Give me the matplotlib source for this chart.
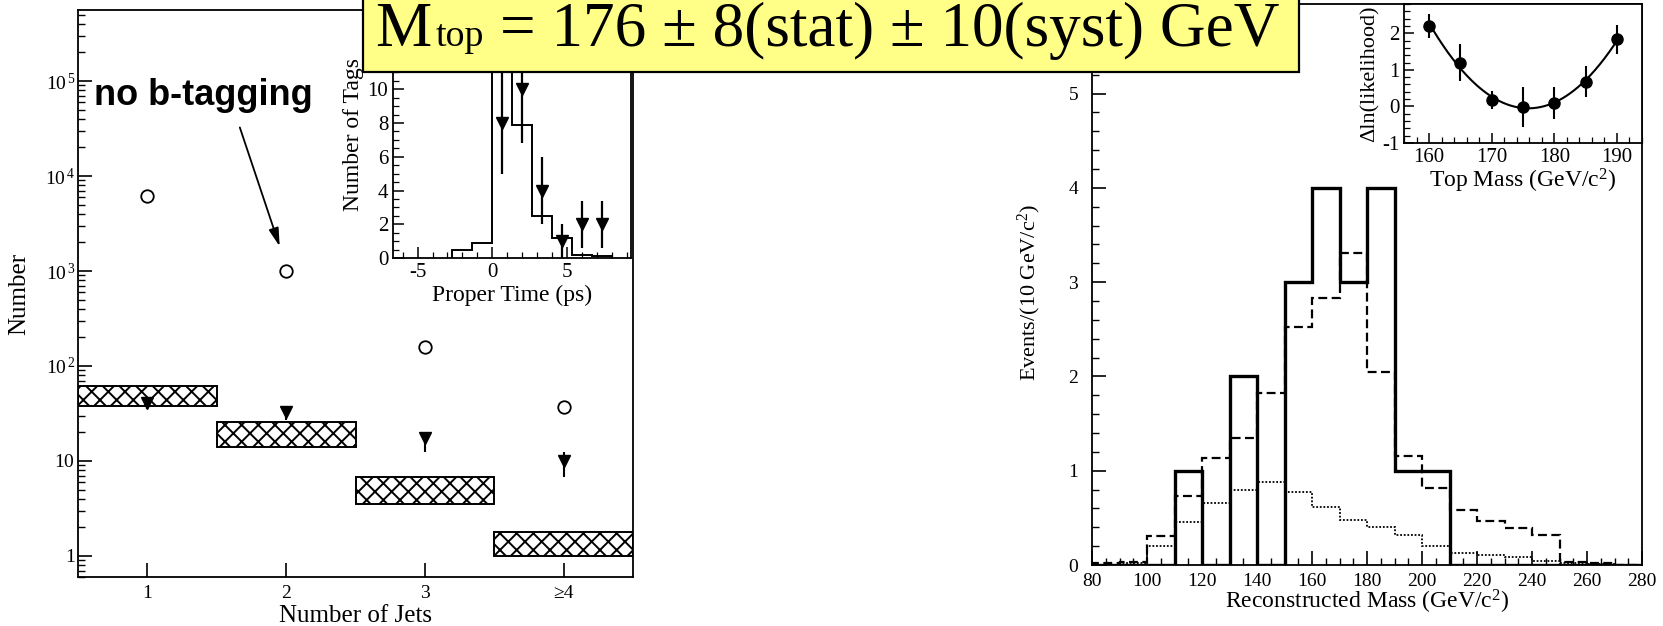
import numpy as np
import matplotlib
matplotlib.use("Agg")
import matplotlib.pyplot as plt
from matplotlib.patches import Rectangle
from matplotlib.ticker import MultipleLocator, LogLocator, FixedLocator, NullFormatter, FuncFormatter

plt.rcParams["font.family"] = ["Liberation Serif", "DejaVu Serif"]
plt.rcParams["mathtext.fontset"] = "custom"
plt.rcParams["mathtext.rm"] = "Liberation Serif"
plt.rcParams["mathtext.it"] = "Liberation Serif:italic"
plt.rcParams["mathtext.bf"] = "Liberation Serif:bold"
plt.rcParams["axes.unicode_minus"] = False
plt.rcParams["hatch.linewidth"] = 1.4
plt.rcParams["xtick.direction"] = "in"
plt.rcParams["ytick.direction"] = "in"
plt.rcParams["xtick.labelsize"] = 14
plt.rcParams["ytick.labelsize"] = 14
plt.rcParams["axes.linewidth"] = 1.3

# --- jet multiplicity (log panel) ---
jet_n = [1, 2, 3, 4]
jet_labels = ["1", "2", "3", "≥4"]
no_btag = [6200, 1000, 158, 37]
btag = [41, 33, 17.5, 10]
btag_err_lo = [6, 6, 5, 3.2]
btag_err_hi = [4, 4, 2.5, 2.3]
bkg_lo = [38, 14, 3.5, 1.0]
bkg_hi = [62, 26, 6.8, 1.8]

# --- proper time inset ---
pt_edges = [-2.67, -1.33, 0.0, 1.33, 2.67, 4.0, 5.33, 6.67, 8.0]
pt_expect = [0.5, 0.9, 17, 7.9, 2.5, 1.2, 0.2, 0.1]
pt_x = [0.67, 2.0, 3.33, 4.67, 6.0, 7.33]
pt_tags = [8, 10, 4, 1, 2, 2]
pt_err = [3, 3.2, 2, 1, 1.4, 1.4]

# --- reconstructed mass ---
mass_edges = np.arange(80, 290, 10)
data_counts = [0, 0, 0, 1, 0, 2, 0, 3, 4, 3, 4, 1, 1, 0, 0, 0, 0, 0, 0, 0]
total_exp = [0.02, 0.03, 0.31, 0.73, 1.13, 1.35, 1.82, 2.52, 2.83, 3.31,
             2.05, 1.16, 0.82, 0.58, 0.47, 0.39, 0.32, 0.03, 0.02, 0.0]
bkg_exp = [0.0, 0.02, 0.2, 0.46, 0.66, 0.8, 0.88, 0.77, 0.61, 0.48,
           0.4, 0.32, 0.2, 0.13, 0.11, 0.09, 0.04, 0.02, 0.01, 0.0]

# --- likelihood scan ---
top_mass = [160, 165, 170, 175, 180, 185, 190]
dlnl = [2.2, 1.2, 0.18, -0.02, 0.09, 0.68, 1.83]
dlnl_err = [0.32, 0.5, 0.25, 0.55, 0.43, 0.43, 0.4]

W, H = 1663, 626
fig = plt.figure(figsize=(W / 100, H / 100), dpi=100)


def px_axes(x0, y0, x1, y1, **kw):
    """add axes from pixel box (top-left origin)"""
    return fig.add_axes([x0 / W, 1 - y1 / H, (x1 - x0) / W, (y1 - y0) / H], **kw)


def log_label(v, pos):
    # plain numbers get trailing space so the "10"s line up with the powers
    k = int(round(np.log10(v)))
    if k == 0:
        return r"$\mathdefault{1}\;\;$"
    if k == 1:
        return r"$\mathdefault{10}\;\;$"
    return r"$\mathdefault{10}^{\,%d}$" % k


# ---------------- left: jets ----------------
ax1 = px_axes(78, 10, 633, 577)
ax1.set_yscale("log")
ax1.set_xlim(0.5, 4.5)
ax1.set_ylim(0.6, 5.6e5)
for n, lo, hi in zip(jet_n, bkg_lo, bkg_hi):
    ax1.add_patch(Rectangle((n - 0.5, lo), 1.0, hi - lo, facecolor="white",
                            edgecolor="black", hatch="xx", lw=1.4, zorder=2))
ax1.plot(jet_n, no_btag, "o", mfc="none", mec="black", ms=9, mew=1.3, zorder=3)
ax1.errorbar(jet_n, btag, yerr=[btag_err_lo, btag_err_hi], fmt="v", color="black",
             ms=8, elinewidth=1.5, capsize=0, zorder=3)
ax1.xaxis.set_major_locator(FixedLocator(jet_n))
ax1.xaxis.set_major_formatter(FuncFormatter(lambda v, p: jet_labels[int(round(v)) - 1]))
ax1.yaxis.set_major_locator(LogLocator(base=10, numticks=10))
ax1.yaxis.set_minor_locator(LogLocator(base=10, subs=np.arange(2, 10), numticks=20))
ax1.yaxis.set_minor_formatter(NullFormatter())
ax1.yaxis.set_major_formatter(FuncFormatter(log_label))
ax1.tick_params(which="major", length=10, width=1.2)
ax1.tick_params(axis="y", which="major", pad=2)
ax1.tick_params(axis="x", which="major", pad=6)
ax1.tick_params(axis="y", which="minor", length=5, width=1)
ax1.tick_params(axis="x", which="minor", bottom=False)
ax1.set_xlabel("Number of Jets", fontsize=18, va="top")
ax1.xaxis.set_label_coords(0.5, -0.05)
ax1.set_ylabel("Number", fontsize=18)
ax1.yaxis.set_label_coords(-0.086, 0.5)

ax1.annotate("", xy=(1.96, 1700), xytext=(1.66, 34600),
             arrowprops=dict(arrowstyle="-|>,head_length=1.1,head_width=0.3",
                             color="black", lw=1.3), zorder=4)
ax1.text(1.40, 71000, "no b-tagging", family=["Liberation Sans", "DejaVu Sans"],
         fontweight="bold", fontsize=26, ha="center", va="center", zorder=4)

# ---------------- left inset: proper time ----------------
ax2 = px_axes(393, 10, 631, 258)
ax2.set_xlim(-6.65, 9.3)
ax2.set_ylim(0, 14.7)
ax2.stairs(pt_expect, pt_edges, color="black", lw=1.4)
ax2.errorbar(pt_x, pt_tags, yerr=pt_err, fmt="v", color="black", ms=8,
             elinewidth=1.6, capsize=0)
ax2.xaxis.set_major_locator(MultipleLocator(5))
ax2.xaxis.set_minor_locator(MultipleLocator(1))
ax2.yaxis.set_major_locator(MultipleLocator(2))
ax2.yaxis.set_minor_locator(MultipleLocator(0.5))
ax2.tick_params(which="major", labelsize=15, length=8, width=1.1)
ax2.tick_params(which="minor", length=4, width=0.9)
ax2.set_xlabel("Proper Time (ps)", fontsize=17, labelpad=2)
ax2.set_ylabel("Number of Tags", fontsize=17, labelpad=2)

# ---------------- right: reconstructed mass ----------------
ax3 = px_axes(1092, 4, 1642, 565)
ax3.set_xlim(80, 280)
ax3.set_ylim(0, 5.95)
ax3.stairs(bkg_exp, mass_edges, color="black", lw=1.3, linestyle=(0, (1, 1)))
ax3.stairs(total_exp, mass_edges, color="black", lw=1.6, linestyle=(0, (4, 2)))
ax3.stairs(data_counts, mass_edges, color="black", lw=2.4)
ax3.xaxis.set_major_locator(MultipleLocator(20))
ax3.xaxis.set_minor_locator(MultipleLocator(5))
ax3.yaxis.set_major_locator(MultipleLocator(1))
ax3.yaxis.set_minor_locator(MultipleLocator(0.2))
ax3.tick_params(which="major", length=10, width=1.2)
ax3.tick_params(axis="y", which="major", pad=10)
ax3.tick_params(axis="x", which="major", pad=6)
ax3.tick_params(which="minor", length=5, width=1)
ax3.set_xlabel(r"Reconstructed Mass (GeV/c$^2$)", fontsize=17, va="top")
ax3.xaxis.set_label_coords(0.5, -0.04)
ax3.set_ylabel(r"Events/(10 GeV/c$^2$)", fontsize=16)
ax3.yaxis.set_label_coords(-0.089, 0.485)

# ---------------- right inset: likelihood ----------------
ax4 = px_axes(1404, 4, 1642, 143)
ax4.set_xlim(156, 194)
ax4.set_ylim(-1, 2.8)
coef = np.polyfit(top_mass, dlnl, 2)
mm = np.linspace(top_mass[0], top_mass[-1], 200)
ax4.plot(mm, np.polyval(coef, mm), color="black", lw=1.5)
ax4.errorbar(top_mass, dlnl, yerr=dlnl_err, fmt="o", color="black", ms=8,
             elinewidth=1.5, capsize=0)
ax4.xaxis.set_major_locator(MultipleLocator(10))
ax4.xaxis.set_minor_locator(MultipleLocator(2))
ax4.yaxis.set_major_locator(MultipleLocator(1))
ax4.yaxis.set_minor_locator(MultipleLocator(0.2))
ax4.tick_params(which="major", labelsize=15, length=7, width=1.1)
ax4.tick_params(which="minor", length=4, width=0.9)
ax4.set_xlabel(r"Top Mass (GeV/c$^2$)", fontsize=17, labelpad=0)
ax4.set_ylabel("Δln(likelihood)", fontsize=16, labelpad=2)

# ---------------- result banner ----------------
fig.add_artist(Rectangle((363 / W, 1 - 72 / H), (1299 - 363) / W, 80 / H,
                         transform=fig.transFigure, facecolor="#ffff88",
                         edgecolor="black", lw=1.6, zorder=10))
fig.canvas.draw()
renderer = fig.canvas.get_renderer()
base_y = 1 - 46 / H
pieces = [("M", 1.0, 4), ("top", 0.6, 16), ("= 176 ± 8(stat) ± 10(syst) GeV", 1.0, 0)]


def lay_out(size, start, draw):
    x = start
    made = []
    for s, rel, gap in pieces:
        t = fig.text(x / W, base_y, s, fontsize=size * rel, ha="left",
                     va="baseline", zorder=11)
        x = t.get_window_extent(renderer=renderer).x1 + gap
        made.append(t)
    if not draw:
        for t in made:
            t.remove()
    return x


span = lay_out(42, 375, False) - 375
lay_out(42 * 907 / span, 375, True)

fig.savefig("out.png", dpi=100)
